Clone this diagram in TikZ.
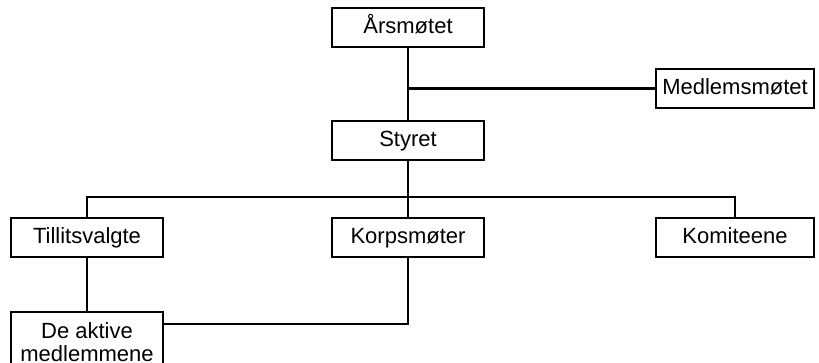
\documentclass[tikz,border=0pt]{standalone}
\usepackage{fontspec}
\setmainfont{Liberation Sans}
\usepackage{tikz}
\usetikzlibrary{calc}
\tikzset{ box_base/.style = {rectangle, draw, line width=1.3pt, minimum width=76pt, minimum height=19.5pt, inner sep=1pt, align=center, font=\fontsize{11}{11.5}\selectfont} }
\tikzset{ org_box/.style = {box_base, text height=8pt, text depth=2.4pt} }
\tikzset{ wide_box/.style = {org_box, minimum width=79pt} }
\tikzset{ org_line/.style = {line width=1.1pt} }

\begin{document}
\begin{tikzpicture}[x=0.5pt, y=-0.5pt]
    \clip (0,0) rectangle (819,363);
    \node[org_box] (aars) at (408,27.5) {Årsmøtet};
    \node[wide_box] (medlem) at (735,88.5) {Medlemsmøtet};
    \node[org_box] (styret) at (408,140.5) {Styret};
    \node[org_box] (tillit) at (87,237.5) {Tillitsvalgte};
    \node[org_box] (korps) at (408,237.5) {Korpsmøter};
    \node[wide_box] (komit) at (735,237.5) {Komiteene};
    \node[box_base, minimum height=30pt] (aktive) at (87,342) {De aktive\\medlemmene};
    \coordinate (bus) at (408,197);
    \draw[org_line] (aars) -- (styret);
    \draw[org_line] (medlem.west) -- (medlem.west -| aars);
    \draw[org_line] (styret) -- (bus);
    \draw[org_line] (tillit.north) |- (bus) -| (komit.north);
    \draw[org_line] (bus) -- (korps);
    \draw[org_line] (tillit) -- (aktive);
    \draw[org_line] (korps.south) |- ([yshift=-6.5pt]aktive.north east);
\end{tikzpicture}
\end{document}
